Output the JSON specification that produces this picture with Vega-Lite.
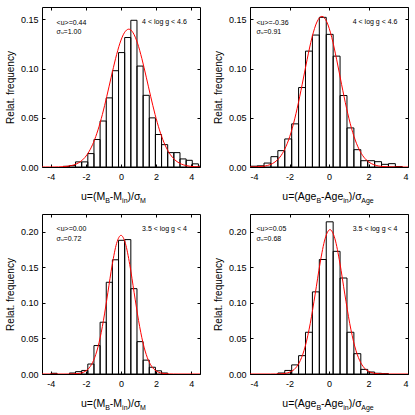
{
"$schema": "https://vega.github.io/schema/vega-lite/v6.json",
"background": "white",
"padding": {"left": 4, "top": 6, "right": 2, "bottom": 2},
"datasets": {
"bars": [
{"p":1,"lo":-3.29,"hi":-2.94,"f":0.0007},{"p":1,"lo":-2.94,"hi":-2.59,"f":0.0014},{"p":1,"lo":-2.59,"hi":-2.24,"f":0.0052},{"p":1,"lo":-2.24,"hi":-1.89,"f":0.0052},{"p":1,"lo":-1.89,"hi":-1.54,"f":0.0136},{"p":1,"lo":-1.54,"hi":-1.19,"f":0.0279},{"p":1,"lo":-1.19,"hi":-0.84,"f":0.0467},{"p":1,"lo":-0.84,"hi":-0.49,"f":0.0702},{"p":1,"lo":-0.49,"hi":-0.14,"f":0.0978},{"p":1,"lo":-0.14,"hi":0.21,"f":0.1162},{"p":1,"lo":0.21,"hi":0.56,"f":0.1315},{"p":1,"lo":0.56,"hi":0.91,"f":0.149},{"p":1,"lo":0.91,"hi":1.26,"f":0.1025},{"p":1,"lo":1.26,"hi":1.61,"f":0.0728},{"p":1,"lo":1.61,"hi":1.96,"f":0.0499},{"p":1,"lo":1.96,"hi":2.31,"f":0.033},{"p":1,"lo":2.31,"hi":2.66,"f":0.0227},{"p":1,"lo":2.66,"hi":3.01,"f":0.0146},{"p":1,"lo":3.01,"hi":3.36,"f":0.0146},{"p":1,"lo":3.36,"hi":3.71,"f":0.0082},{"p":1,"lo":3.71,"hi":4.06,"f":0.0068},{"p":1,"lo":4.06,"hi":4.41,"f":0.0032},{"p":1,"lo":4.41,"hi":4.76,"f":0.0008},
{"p":2,"lo":-3.99,"hi":-3.64,"f":0.0008},{"p":2,"lo":-3.64,"hi":-3.29,"f":0.0012},{"p":2,"lo":-3.29,"hi":-2.94,"f":0.004},{"p":2,"lo":-2.94,"hi":-2.59,"f":0.0105},{"p":2,"lo":-2.59,"hi":-2.24,"f":0.0166},{"p":2,"lo":-2.24,"hi":-1.89,"f":0.0285},{"p":2,"lo":-1.89,"hi":-1.54,"f":0.0438},{"p":2,"lo":-1.54,"hi":-1.19,"f":0.0807},{"p":2,"lo":-1.19,"hi":-0.84,"f":0.1177},{"p":2,"lo":-0.84,"hi":-0.49,"f":0.134},{"p":2,"lo":-0.49,"hi":-0.14,"f":0.152},{"p":2,"lo":-0.14,"hi":0.21,"f":0.1347},{"p":2,"lo":0.21,"hi":0.56,"f":0.1126},{"p":2,"lo":0.56,"hi":0.91,"f":0.0726},{"p":2,"lo":0.91,"hi":1.26,"f":0.0397},{"p":2,"lo":1.26,"hi":1.61,"f":0.0176},{"p":2,"lo":1.61,"hi":1.96,"f":0.0064},{"p":2,"lo":1.96,"hi":2.31,"f":0.0064},{"p":2,"lo":2.31,"hi":2.66,"f":0.0054},{"p":2,"lo":2.66,"hi":3.01,"f":0.0027},{"p":2,"lo":3.01,"hi":3.36,"f":0.0034},{"p":2,"lo":3.36,"hi":3.71,"f":0.0005},
{"p":3,"lo":-3.99,"hi":-3.64,"f":0.001},{"p":3,"lo":-2.94,"hi":-2.59,"f":0.0014},{"p":3,"lo":-2.59,"hi":-2.24,"f":0.0033},{"p":3,"lo":-2.24,"hi":-1.89,"f":0.005},{"p":3,"lo":-1.89,"hi":-1.54,"f":0.014},{"p":3,"lo":-1.54,"hi":-1.19,"f":0.04},{"p":3,"lo":-1.19,"hi":-0.84,"f":0.0728},{"p":3,"lo":-0.84,"hi":-0.49,"f":0.129},{"p":3,"lo":-0.49,"hi":-0.14,"f":0.1606},{"p":3,"lo":-0.14,"hi":0.21,"f":0.188},{"p":3,"lo":0.21,"hi":0.56,"f":0.189},{"p":3,"lo":0.56,"hi":0.91,"f":0.12},{"p":3,"lo":0.91,"hi":1.26,"f":0.0455},{"p":3,"lo":1.26,"hi":1.61,"f":0.0195},{"p":3,"lo":1.61,"hi":1.96,"f":0.0095},{"p":3,"lo":1.96,"hi":2.31,"f":0.0045},{"p":3,"lo":2.31,"hi":2.66,"f":0.0014},
{"p":4,"lo":-2.59,"hi":-2.24,"f":0.0014},{"p":4,"lo":-2.24,"hi":-1.89,"f":0.005},{"p":4,"lo":-1.89,"hi":-1.54,"f":0.0128},{"p":4,"lo":-1.54,"hi":-1.19,"f":0.0258},{"p":4,"lo":-1.19,"hi":-0.84,"f":0.0587},{"p":4,"lo":-0.84,"hi":-0.49,"f":0.1155},{"p":4,"lo":-0.49,"hi":-0.14,"f":0.161},{"p":4,"lo":-0.14,"hi":0.21,"f":0.214},{"p":4,"lo":0.21,"hi":0.56,"f":0.1725},{"p":4,"lo":0.56,"hi":0.91,"f":0.135},{"p":4,"lo":0.91,"hi":1.26,"f":0.0587},{"p":4,"lo":1.26,"hi":1.61,"f":0.0286},{"p":4,"lo":1.61,"hi":1.96,"f":0.0065},{"p":4,"lo":1.96,"hi":2.31,"f":0.0028},{"p":4,"lo":2.31,"hi":2.66,"f":0.001},{"p":4,"lo":2.66,"hi":3.01,"f":0.0005}
],
"curve": [
{"p":1,"u":-4.56,"f":0},{"p":1,"u":-4.31,"f":0.00001},{"p":1,"u":-4.06,"f":0.00002},{"p":1,"u":-3.81,"f":0.00006},{"p":1,"u":-3.56,"f":0.00015},{"p":1,"u":-3.31,"f":0.00034},{"p":1,"u":-3.06,"f":0.00073},{"p":1,"u":-2.81,"f":0.00151},{"p":1,"u":-2.56,"f":0.00296},{"p":1,"u":-2.31,"f":0.00547},{"p":1,"u":-2.06,"f":0.0096},{"p":1,"u":-1.81,"f":0.016},{"p":1,"u":-1.56,"f":0.0252},{"p":1,"u":-1.31,"f":0.0377},{"p":1,"u":-1.06,"f":0.0534},{"p":1,"u":-0.81,"f":0.0717},{"p":1,"u":-0.56,"f":0.0912},{"p":1,"u":-0.31,"f":0.11},{"p":1,"u":-0.06,"f":0.1258},{"p":1,"u":0.19,"f":0.1363},{"p":1,"u":0.44,"f":0.14},{"p":1,"u":0.69,"f":0.1363},{"p":1,"u":0.94,"f":0.1258},{"p":1,"u":1.19,"f":0.11},{"p":1,"u":1.44,"f":0.0912},{"p":1,"u":1.69,"f":0.0717},{"p":1,"u":1.94,"f":0.0534},{"p":1,"u":2.19,"f":0.0377},{"p":1,"u":2.44,"f":0.0252},{"p":1,"u":2.69,"f":0.016},{"p":1,"u":2.94,"f":0.0096},{"p":1,"u":3.19,"f":0.00547},{"p":1,"u":3.44,"f":0.00296},{"p":1,"u":3.69,"f":0.00151},{"p":1,"u":3.94,"f":0.00073},{"p":1,"u":4.19,"f":0.00034},{"p":1,"u":4.44,"f":0.00015},{"p":1,"u":4.69,"f":0.00006},
{"p":2,"u":-4.11,"f":0.00003},{"p":2,"u":-3.86,"f":0.00009},{"p":2,"u":-3.61,"f":0.00026},{"p":2,"u":-3.36,"f":0.00067},{"p":2,"u":-3.11,"f":0.00159},{"p":2,"u":-2.86,"f":0.00351},{"p":2,"u":-2.61,"f":0.00719},{"p":2,"u":-2.36,"f":0.01367},{"p":2,"u":-2.11,"f":0.0241},{"p":2,"u":-1.86,"f":0.0393},{"p":2,"u":-1.61,"f":0.0596},{"p":2,"u":-1.36,"f":0.0836},{"p":2,"u":-1.11,"f":0.1089},{"p":2,"u":-0.86,"f":0.1316},{"p":2,"u":-0.61,"f":0.1473},{"p":2,"u":-0.36,"f":0.153},{"p":2,"u":-0.11,"f":0.1473},{"p":2,"u":0.14,"f":0.1316},{"p":2,"u":0.39,"f":0.1089},{"p":2,"u":0.64,"f":0.0836},{"p":2,"u":0.89,"f":0.0596},{"p":2,"u":1.14,"f":0.0393},{"p":2,"u":1.39,"f":0.0241},{"p":2,"u":1.64,"f":0.01367},{"p":2,"u":1.89,"f":0.00719},{"p":2,"u":2.14,"f":0.00351},{"p":2,"u":2.39,"f":0.00159},{"p":2,"u":2.64,"f":0.00067},{"p":2,"u":2.89,"f":0.00026},{"p":2,"u":3.14,"f":0.00009},{"p":2,"u":3.39,"f":0.00003},{"p":2,"u":3.64,"f":0},{"p":2,"u":4.14,"f":0},
{"p":3,"u":-4.5,"f":0},{"p":3,"u":-3.25,"f":0},{"p":3,"u":-3.0,"f":0.00004},{"p":3,"u":-2.75,"f":0.00015},{"p":3,"u":-2.5,"f":0.00051},{"p":3,"u":-2.25,"f":0.00158},{"p":3,"u":-2.0,"f":0.00434},{"p":3,"u":-1.75,"f":0.0106},{"p":3,"u":-1.5,"f":0.0229},{"p":3,"u":-1.25,"f":0.0441},{"p":3,"u":-1.0,"f":0.0753},{"p":3,"u":-0.75,"f":0.1142},{"p":3,"u":-0.5,"f":0.1537},{"p":3,"u":-0.25,"f":0.1837},{"p":3,"u":0,"f":0.195},{"p":3,"u":0.25,"f":0.1837},{"p":3,"u":0.5,"f":0.1537},{"p":3,"u":0.75,"f":0.1142},{"p":3,"u":1.0,"f":0.0753},{"p":3,"u":1.25,"f":0.0441},{"p":3,"u":1.5,"f":0.0229},{"p":3,"u":1.75,"f":0.0106},{"p":3,"u":2.0,"f":0.00434},{"p":3,"u":2.25,"f":0.00158},{"p":3,"u":2.5,"f":0.00051},{"p":3,"u":2.75,"f":0.00015},{"p":3,"u":3.0,"f":0.00004},{"p":3,"u":3.25,"f":0},{"p":3,"u":4.5,"f":0},
{"p":4,"u":-4.0,"f":0},{"p":4,"u":-2.95,"f":0},{"p":4,"u":-2.7,"f":0.00007},{"p":4,"u":-2.45,"f":0.00029},{"p":4,"u":-2.2,"f":0.00099},{"p":4,"u":-1.95,"f":0.00304},{"p":4,"u":-1.7,"f":0.00814},{"p":4,"u":-1.45,"f":0.0191},{"p":4,"u":-1.2,"f":0.0393},{"p":4,"u":-0.95,"f":0.071},{"p":4,"u":-0.7,"f":0.1124},{"p":4,"u":-0.45,"f":0.1561},{"p":4,"u":-0.2,"f":0.1901},{"p":4,"u":0.05,"f":0.203},{"p":4,"u":0.3,"f":0.1901},{"p":4,"u":0.55,"f":0.1561},{"p":4,"u":0.8,"f":0.1124},{"p":4,"u":1.05,"f":0.071},{"p":4,"u":1.3,"f":0.0393},{"p":4,"u":1.55,"f":0.0191},{"p":4,"u":1.8,"f":0.00814},{"p":4,"u":2.05,"f":0.00304},{"p":4,"u":2.3,"f":0.00099},{"p":4,"u":2.55,"f":0.00029},{"p":4,"u":2.8,"f":0.00007},{"p":4,"u":3.05,"f":0},{"p":4,"u":4.0,"f":0}
],
"xt": [
{"p":1,"t":"u=(M","u":-2.278,"s":false},{"p":1,"t":"B","u":-0.9,"s":true},{"p":1,"t":"-M","u":-0.634,"s":false},{"p":1,"t":"in","u":0.063,"s":true},{"p":1,"t":")/σ","u":0.374,"s":false},{"p":1,"t":"M","u":1.086,"s":true},
{"p":2,"t":"u=(Age","u":-2.365,"s":false},{"p":2,"t":"B","u":-0.635,"s":true},{"p":2,"t":"-Age","u":-0.399,"s":false},{"p":2,"t":"in","u":0.724,"s":true},{"p":2,"t":")/σ","u":1.0,"s":false},{"p":2,"t":"Age","u":1.633,"s":true}
]
},
"columns": 2,
"spacing": {"row": 47, "column": 50},
"bounds": "flush",
"concat": [
{
"width": 158, "height": 160,
"layer": [
{"data": {"name": "bars"}, "transform": [{"filter": "datum.p == 1"}],
 "mark": {"type": "rect", "fill": "transparent", "stroke": "#000", "strokeWidth": 1, "clip": true},
 "encoding": {
  "x": {"field": "lo", "type": "quantitative", "scale": {"domain": [-4.5, 4.5], "nice": false, "zero": false}, "axis": {"orient": "bottom", "values": [-4, -2, 0, 2, 4], "title": null, "labelPadding": 8, "labelExpr": "datum.value < 0 ? '-' + abs(datum.value) : '' + datum.value"}},
  "x2": {"field": "hi"},
  "y": {"field": "f", "type": "quantitative", "scale": {"domain": [0, 0.1625], "nice": false, "zero": false}, "axis": {"orient": "left", "values": [0, 0.05, 0.1, 0.15], "format": ".2f", "title": "Relat. frequency", "labelPadding": 7, "titlePadding": 5}},
  "y2": {"datum": 0}
 }},
{"data": {"name": "bars"}, "transform": [{"filter": "datum.p == 1"}],
 "mark": {"type": "point", "opacity": 0},
 "encoding": {
  "x": {"field": "lo", "type": "quantitative", "scale": {"domain": [-4.5, 4.5], "nice": false, "zero": false}, "axis": {"orient": "top", "values": [-4, -2, 0, 2, 4], "labels": false, "title": null}},
  "y": {"field": "f", "type": "quantitative", "scale": {"domain": [0, 0.1625], "nice": false, "zero": false}, "axis": {"orient": "right", "values": [0, 0.05, 0.1, 0.15], "labels": false, "title": null}}
 }},
{"data": {"name": "curve"}, "transform": [{"filter": "datum.p == 1"}],
 "mark": {"type": "line", "color": "#ff0000", "strokeWidth": 1, "interpolate": "monotone", "clip": true},
 "encoding": {
  "x": {"field": "u", "type": "quantitative", "scale": {"domain": [-4.5, 4.5], "nice": false, "zero": false}, "axis": null},
  "y": {"field": "f", "type": "quantitative", "scale": {"domain": [0, 0.1625], "nice": false, "zero": false}, "axis": null}
 }},
{"data": {"values": [{}]},
 "mark": {"type": "text", "text": "<u>=0.44", "fontSize": 7, "align": "left", "baseline": "alphabetic"},
 "encoding": {"x": {"datum": -3.67, "type": "quantitative", "scale": {"domain": [-4.5, 4.5], "nice": false, "zero": false}, "axis": null}, "y": {"datum": 0.1445, "type": "quantitative", "scale": {"domain": [0, 0.1625], "nice": false, "zero": false}, "axis": null}}},
{"data": {"values": [{}]},
 "mark": {"type": "text", "text": "σᵤ=1.00", "fontSize": 7, "align": "left", "baseline": "alphabetic"},
 "encoding": {"x": {"datum": -3.67, "type": "quantitative", "scale": {"domain": [-4.5, 4.5], "nice": false, "zero": false}, "axis": null}, "y": {"datum": 0.1348, "type": "quantitative", "scale": {"domain": [0, 0.1625], "nice": false, "zero": false}, "axis": null}}},
{"data": {"values": [{}]},
 "mark": {"type": "text", "text": "4 < log g < 4.6", "fontSize": 7, "align": "left", "baseline": "alphabetic"},
 "encoding": {"x": {"datum": 1.2, "type": "quantitative", "scale": {"domain": [-4.5, 4.5], "nice": false, "zero": false}, "axis": null}, "y": {"datum": 0.1455, "type": "quantitative", "scale": {"domain": [0, 0.1625], "nice": false, "zero": false}, "axis": null}}},
{"data": {"name": "xt"}, "transform": [{"filter": "datum.p == 1 && !datum.s"}],
 "mark": {"type": "text", "fontSize": 10.5, "align": "left", "baseline": "alphabetic"},
 "encoding": {"x": {"field": "u", "type": "quantitative", "scale": {"domain": [-4.5, 4.5], "nice": false, "zero": false}, "axis": null}, "y": {"datum": -0.0338, "type": "quantitative", "scale": {"domain": [0, 0.1625], "nice": false, "zero": false}, "axis": null}, "text": {"field": "t"}}},
{"data": {"name": "xt"}, "transform": [{"filter": "datum.p == 1 && datum.s"}],
 "mark": {"type": "text", "fontSize": 7, "align": "left", "baseline": "alphabetic", "dy": 2.5},
 "encoding": {"x": {"field": "u", "type": "quantitative", "scale": {"domain": [-4.5, 4.5], "nice": false, "zero": false}, "axis": null}, "y": {"datum": -0.0338, "type": "quantitative", "scale": {"domain": [0, 0.1625], "nice": false, "zero": false}, "axis": null}, "text": {"field": "t"}}}
],
"resolve": {"axis": {"x": "independent", "y": "independent"}}
},
{
"width": 158, "height": 160,
"layer": [
{"data": {"name": "bars"}, "transform": [{"filter": "datum.p == 2"}],
 "mark": {"type": "rect", "fill": "transparent", "stroke": "#000", "strokeWidth": 1, "clip": true},
 "encoding": {
  "x": {"field": "lo", "type": "quantitative", "scale": {"domain": [-4, 4], "nice": false, "zero": false}, "axis": {"orient": "bottom", "values": [-4, -2, 0, 2, 4], "title": null, "labelPadding": 8, "labelExpr": "datum.value < 0 ? '-' + abs(datum.value) : '' + datum.value"}},
  "x2": {"field": "hi"},
  "y": {"field": "f", "type": "quantitative", "scale": {"domain": [0, 0.1625], "nice": false, "zero": false}, "axis": {"orient": "left", "values": [0, 0.05, 0.1, 0.15], "format": ".2f", "title": "Relat. frequency", "labelPadding": 7, "titlePadding": 5}},
  "y2": {"datum": 0}
 }},
{"data": {"name": "bars"}, "transform": [{"filter": "datum.p == 2"}],
 "mark": {"type": "point", "opacity": 0},
 "encoding": {
  "x": {"field": "lo", "type": "quantitative", "scale": {"domain": [-4, 4], "nice": false, "zero": false}, "axis": {"orient": "top", "values": [-4, -2, 0, 2, 4], "labels": false, "title": null}},
  "y": {"field": "f", "type": "quantitative", "scale": {"domain": [0, 0.1625], "nice": false, "zero": false}, "axis": {"orient": "right", "values": [0, 0.05, 0.1, 0.15], "labels": false, "title": null}}
 }},
{"data": {"name": "curve"}, "transform": [{"filter": "datum.p == 2"}],
 "mark": {"type": "line", "color": "#ff0000", "strokeWidth": 1, "interpolate": "monotone", "clip": true},
 "encoding": {
  "x": {"field": "u", "type": "quantitative", "scale": {"domain": [-4, 4], "nice": false, "zero": false}, "axis": null},
  "y": {"field": "f", "type": "quantitative", "scale": {"domain": [0, 0.1625], "nice": false, "zero": false}, "axis": null}
 }},
{"data": {"values": [{}]},
 "mark": {"type": "text", "text": "<u>=-0.36", "fontSize": 7, "align": "left", "baseline": "alphabetic"},
 "encoding": {"x": {"datum": -3.67, "type": "quantitative", "scale": {"domain": [-4, 4], "nice": false, "zero": false}, "axis": null}, "y": {"datum": 0.1445, "type": "quantitative", "scale": {"domain": [0, 0.1625], "nice": false, "zero": false}, "axis": null}}},
{"data": {"values": [{}]},
 "mark": {"type": "text", "text": "σᵤ=0.91", "fontSize": 7, "align": "left", "baseline": "alphabetic"},
 "encoding": {"x": {"datum": -3.67, "type": "quantitative", "scale": {"domain": [-4, 4], "nice": false, "zero": false}, "axis": null}, "y": {"datum": 0.1348, "type": "quantitative", "scale": {"domain": [0, 0.1625], "nice": false, "zero": false}, "axis": null}}},
{"data": {"values": [{}]},
 "mark": {"type": "text", "text": "4 < log g < 4.6", "fontSize": 7, "align": "left", "baseline": "alphabetic"},
 "encoding": {"x": {"datum": 1.2, "type": "quantitative", "scale": {"domain": [-4, 4], "nice": false, "zero": false}, "axis": null}, "y": {"datum": 0.1455, "type": "quantitative", "scale": {"domain": [0, 0.1625], "nice": false, "zero": false}, "axis": null}}},
{"data": {"name": "xt"}, "transform": [{"filter": "datum.p == 2 && !datum.s"}],
 "mark": {"type": "text", "fontSize": 10.5, "align": "left", "baseline": "alphabetic"},
 "encoding": {"x": {"field": "u", "type": "quantitative", "scale": {"domain": [-4, 4], "nice": false, "zero": false}, "axis": null}, "y": {"datum": -0.0338, "type": "quantitative", "scale": {"domain": [0, 0.1625], "nice": false, "zero": false}, "axis": null}, "text": {"field": "t"}}},
{"data": {"name": "xt"}, "transform": [{"filter": "datum.p == 2 && datum.s"}],
 "mark": {"type": "text", "fontSize": 7, "align": "left", "baseline": "alphabetic", "dy": 2.5},
 "encoding": {"x": {"field": "u", "type": "quantitative", "scale": {"domain": [-4, 4], "nice": false, "zero": false}, "axis": null}, "y": {"datum": -0.0338, "type": "quantitative", "scale": {"domain": [0, 0.1625], "nice": false, "zero": false}, "axis": null}, "text": {"field": "t"}}}
],
"resolve": {"axis": {"x": "independent", "y": "independent"}}
},
{
"width": 158, "height": 160,
"layer": [
{"data": {"name": "bars"}, "transform": [{"filter": "datum.p == 3"}],
 "mark": {"type": "rect", "fill": "transparent", "stroke": "#000", "strokeWidth": 1, "clip": true},
 "encoding": {
  "x": {"field": "lo", "type": "quantitative", "scale": {"domain": [-4.5, 4.5], "nice": false, "zero": false}, "axis": {"orient": "bottom", "values": [-4, -2, 0, 2, 4], "title": null, "labelPadding": 8, "labelExpr": "datum.value < 0 ? '-' + abs(datum.value) : '' + datum.value"}},
  "x2": {"field": "hi"},
  "y": {"field": "f", "type": "quantitative", "scale": {"domain": [0, 0.225], "nice": false, "zero": false}, "axis": {"orient": "left", "values": [0, 0.05, 0.1, 0.15, 0.2], "format": ".2f", "title": "Relat. frequency", "labelPadding": 7, "titlePadding": 5}},
  "y2": {"datum": 0}
 }},
{"data": {"name": "bars"}, "transform": [{"filter": "datum.p == 3"}],
 "mark": {"type": "point", "opacity": 0},
 "encoding": {
  "x": {"field": "lo", "type": "quantitative", "scale": {"domain": [-4.5, 4.5], "nice": false, "zero": false}, "axis": {"orient": "top", "values": [-4, -2, 0, 2, 4], "labels": false, "title": null}},
  "y": {"field": "f", "type": "quantitative", "scale": {"domain": [0, 0.225], "nice": false, "zero": false}, "axis": {"orient": "right", "values": [0, 0.05, 0.1, 0.15, 0.2], "labels": false, "title": null}}
 }},
{"data": {"name": "curve"}, "transform": [{"filter": "datum.p == 3"}],
 "mark": {"type": "line", "color": "#ff0000", "strokeWidth": 1, "interpolate": "monotone", "clip": true},
 "encoding": {
  "x": {"field": "u", "type": "quantitative", "scale": {"domain": [-4.5, 4.5], "nice": false, "zero": false}, "axis": null},
  "y": {"field": "f", "type": "quantitative", "scale": {"domain": [0, 0.225], "nice": false, "zero": false}, "axis": null}
 }},
{"data": {"values": [{}]},
 "mark": {"type": "text", "text": "<u>=0.00", "fontSize": 7, "align": "left", "baseline": "alphabetic"},
 "encoding": {"x": {"datum": -3.67, "type": "quantitative", "scale": {"domain": [-4.5, 4.5], "nice": false, "zero": false}, "axis": null}, "y": {"datum": 0.2007, "type": "quantitative", "scale": {"domain": [0, 0.225], "nice": false, "zero": false}, "axis": null}}},
{"data": {"values": [{}]},
 "mark": {"type": "text", "text": "σᵤ=0.72", "fontSize": 7, "align": "left", "baseline": "alphabetic"},
 "encoding": {"x": {"datum": -3.67, "type": "quantitative", "scale": {"domain": [-4.5, 4.5], "nice": false, "zero": false}, "axis": null}, "y": {"datum": 0.1873, "type": "quantitative", "scale": {"domain": [0, 0.225], "nice": false, "zero": false}, "axis": null}}},
{"data": {"values": [{}]},
 "mark": {"type": "text", "text": "3.5 < log g < 4", "fontSize": 7, "align": "left", "baseline": "alphabetic"},
 "encoding": {"x": {"datum": 1.2, "type": "quantitative", "scale": {"domain": [-4.5, 4.5], "nice": false, "zero": false}, "axis": null}, "y": {"datum": 0.2014, "type": "quantitative", "scale": {"domain": [0, 0.225], "nice": false, "zero": false}, "axis": null}}},
{"data": {"name": "xt"}, "transform": [{"filter": "datum.p == 1 && !datum.s"}],
 "mark": {"type": "text", "fontSize": 10.5, "align": "left", "baseline": "alphabetic"},
 "encoding": {"x": {"field": "u", "type": "quantitative", "scale": {"domain": [-4.5, 4.5], "nice": false, "zero": false}, "axis": null}, "y": {"datum": -0.0468, "type": "quantitative", "scale": {"domain": [0, 0.225], "nice": false, "zero": false}, "axis": null}, "text": {"field": "t"}}},
{"data": {"name": "xt"}, "transform": [{"filter": "datum.p == 1 && datum.s"}],
 "mark": {"type": "text", "fontSize": 7, "align": "left", "baseline": "alphabetic", "dy": 2.5},
 "encoding": {"x": {"field": "u", "type": "quantitative", "scale": {"domain": [-4.5, 4.5], "nice": false, "zero": false}, "axis": null}, "y": {"datum": -0.0468, "type": "quantitative", "scale": {"domain": [0, 0.225], "nice": false, "zero": false}, "axis": null}, "text": {"field": "t"}}}
],
"resolve": {"axis": {"x": "independent", "y": "independent"}}
},
{
"width": 158, "height": 160,
"layer": [
{"data": {"name": "bars"}, "transform": [{"filter": "datum.p == 4"}],
 "mark": {"type": "rect", "fill": "transparent", "stroke": "#000", "strokeWidth": 1, "clip": true},
 "encoding": {
  "x": {"field": "lo", "type": "quantitative", "scale": {"domain": [-4, 4], "nice": false, "zero": false}, "axis": {"orient": "bottom", "values": [-4, -2, 0, 2, 4], "title": null, "labelPadding": 8, "labelExpr": "datum.value < 0 ? '-' + abs(datum.value) : '' + datum.value"}},
  "x2": {"field": "hi"},
  "y": {"field": "f", "type": "quantitative", "scale": {"domain": [0, 0.225], "nice": false, "zero": false}, "axis": {"orient": "left", "values": [0, 0.05, 0.1, 0.15, 0.2], "format": ".2f", "title": "Relat. frequency", "labelPadding": 7, "titlePadding": 5}},
  "y2": {"datum": 0}
 }},
{"data": {"name": "bars"}, "transform": [{"filter": "datum.p == 4"}],
 "mark": {"type": "point", "opacity": 0},
 "encoding": {
  "x": {"field": "lo", "type": "quantitative", "scale": {"domain": [-4, 4], "nice": false, "zero": false}, "axis": {"orient": "top", "values": [-4, -2, 0, 2, 4], "labels": false, "title": null}},
  "y": {"field": "f", "type": "quantitative", "scale": {"domain": [0, 0.225], "nice": false, "zero": false}, "axis": {"orient": "right", "values": [0, 0.05, 0.1, 0.15, 0.2], "labels": false, "title": null}}
 }},
{"data": {"name": "curve"}, "transform": [{"filter": "datum.p == 4"}],
 "mark": {"type": "line", "color": "#ff0000", "strokeWidth": 1, "interpolate": "monotone", "clip": true},
 "encoding": {
  "x": {"field": "u", "type": "quantitative", "scale": {"domain": [-4, 4], "nice": false, "zero": false}, "axis": null},
  "y": {"field": "f", "type": "quantitative", "scale": {"domain": [0, 0.225], "nice": false, "zero": false}, "axis": null}
 }},
{"data": {"values": [{}]},
 "mark": {"type": "text", "text": "<u>=0.05", "fontSize": 7, "align": "left", "baseline": "alphabetic"},
 "encoding": {"x": {"datum": -3.67, "type": "quantitative", "scale": {"domain": [-4, 4], "nice": false, "zero": false}, "axis": null}, "y": {"datum": 0.2007, "type": "quantitative", "scale": {"domain": [0, 0.225], "nice": false, "zero": false}, "axis": null}}},
{"data": {"values": [{}]},
 "mark": {"type": "text", "text": "σᵤ=0.68", "fontSize": 7, "align": "left", "baseline": "alphabetic"},
 "encoding": {"x": {"datum": -3.67, "type": "quantitative", "scale": {"domain": [-4, 4], "nice": false, "zero": false}, "axis": null}, "y": {"datum": 0.1873, "type": "quantitative", "scale": {"domain": [0, 0.225], "nice": false, "zero": false}, "axis": null}}},
{"data": {"values": [{}]},
 "mark": {"type": "text", "text": "3.5 < log g < 4", "fontSize": 7, "align": "left", "baseline": "alphabetic"},
 "encoding": {"x": {"datum": 1.2, "type": "quantitative", "scale": {"domain": [-4, 4], "nice": false, "zero": false}, "axis": null}, "y": {"datum": 0.2014, "type": "quantitative", "scale": {"domain": [0, 0.225], "nice": false, "zero": false}, "axis": null}}},
{"data": {"name": "xt"}, "transform": [{"filter": "datum.p == 2 && !datum.s"}],
 "mark": {"type": "text", "fontSize": 10.5, "align": "left", "baseline": "alphabetic"},
 "encoding": {"x": {"field": "u", "type": "quantitative", "scale": {"domain": [-4, 4], "nice": false, "zero": false}, "axis": null}, "y": {"datum": -0.0468, "type": "quantitative", "scale": {"domain": [0, 0.225], "nice": false, "zero": false}, "axis": null}, "text": {"field": "t"}}},
{"data": {"name": "xt"}, "transform": [{"filter": "datum.p == 2 && datum.s"}],
 "mark": {"type": "text", "fontSize": 7, "align": "left", "baseline": "alphabetic", "dy": 2.5},
 "encoding": {"x": {"field": "u", "type": "quantitative", "scale": {"domain": [-4, 4], "nice": false, "zero": false}, "axis": null}, "y": {"datum": -0.0468, "type": "quantitative", "scale": {"domain": [0, 0.225], "nice": false, "zero": false}, "axis": null}, "text": {"field": "t"}}}
],
"resolve": {"axis": {"x": "independent", "y": "independent"}}
}
],
"config": {
 "font": "Liberation Sans",
 "view": {"stroke": "#000", "strokeWidth": 1},
 "axis": {"grid": false, "domain": false, "ticks": true, "tickSize": -3, "tickColor": "#000", "tickWidth": 1, "labelFont": "Liberation Sans", "labelFontSize": 9, "labelColor": "#000", "titleFont": "Liberation Sans", "titleFontSize": 10, "titleFontWeight": "normal", "titleColor": "#000"},
 "text": {"color": "#000"}
}
}
